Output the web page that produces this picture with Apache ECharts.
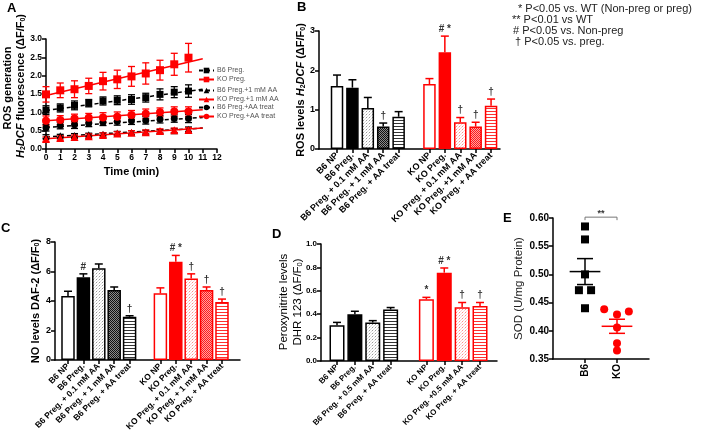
<!DOCTYPE html>
<html><head><meta charset="utf-8">
<script src="https://cdn.jsdelivr.net/npm/echarts@6/dist/echarts.min.js"></script>
<style>html,body{margin:0;padding:0;background:#fff}#c{width:709px;height:437px}</style>
</head><body><div id="c"></div>
<script>
// ---------------- Panel A data ----------------
const timeMin = [0,1,2,3,4,5,6,7,8,9,10];
const fitTimes = [0, 11];
const seriesNamesA = ['B6 Preg.','KO Preg.','B6 Preg.+1 mM AA','KO Preg.+1 mM AA','B6 Preg.+AA treat','KO Preg.+AA treat'];
const b6Preg  = [1.06,1.12,1.19,1.25,1.31,1.33,1.35,1.40,1.49,1.55,1.58];
const koPreg  = [1.49,1.60,1.63,1.72,1.85,1.90,1.98,2.06,2.15,2.31,2.49];
const b61mM   = [0.34,0.36,0.37,0.39,0.40,0.43,0.45,0.46,0.48,0.50,0.54];
const ko1mM   = [0.27,0.30,0.33,0.35,0.38,0.42,0.44,0.46,0.49,0.51,0.52];
const b6AA    = [0.58,0.64,0.66,0.70,0.73,0.75,0.77,0.78,0.81,0.83,0.83];
const koAA    = [0.77,0.79,0.83,0.85,0.86,0.88,0.93,0.96,1.00,1.02,1.02];
const errB6Preg = [0.12,0.11,0.12,0.10,0.11,0.12,0.13,0.12,0.15,0.15,0.17];
const errKOPreg = [0.21,0.20,0.23,0.21,0.24,0.25,0.27,0.29,0.27,0.30,0.39];
const errB61mM  = [0.05,0.04,0.05,0.04,0.04,0.05,0.05,0.05,0.05,0.06,0.06];
const errKO1mM  = [0.06,0.06,0.05,0.06,0.06,0.05,0.06,0.06,0.06,0.06,0.06];
const errB6AA   = [0.09,0.09,0.10,0.09,0.09,0.10,0.10,0.10,0.10,0.10,0.11];
const errKOAA   = [0.13,0.12,0.12,0.12,0.13,0.13,0.12,0.13,0.12,0.13,0.13];
const fitB6Preg = [1.05,1.63];
const fitKOPreg = [1.46,2.46];
const fitB61mM  = [0.33,0.57];
const fitKO1mM  = [0.28,0.57];
const fitB6AA   = [0.59,0.86];
const fitKOAA   = [0.77,1.07];

// ---------------- Panel B data ----------------
const catsB = ['B6 NP','B6 Preg.','B6 Preg. + 0.1 mM AA','B6 Preg. + 1 mM AA','B6 Preg. + AA treat','','KO NP','KO Preg.','KO Preg. + 0.1 mM AA','KO Preg. +1 mM AA','KO Preg. + AA treat'];
const valsB = [1.60,1.56,1.04,0.57,0.82,null,1.65,2.46,0.68,0.57,1.10];
const errB  = [0.28,0.20,0.27,0.09,0.13,null,0.14,0.41,0.12,0.11,0.17];
const sigB  = ['','','','†','',null,'','# *','†','†','†'];

// ---------------- Panel C data ----------------
const catsC = ['B6 NP','B6 Preg.','B6 Preg. + 0.1 mM AA','B6 Preg. + 1 mM AA','B6 Preg. + AA treat','','KO NP','KO Preg.','KO Preg. + 0.1 mM AA','KO Preg. + 1 mM AA','KO Preg. + AA treat'];
const valsC = [4.34,5.61,6.22,4.75,2.93,null,4.52,6.66,5.52,4.75,3.93];
const errC  = [0.32,0.23,0.29,0.20,0.07,null,0.37,0.43,0.32,0.20,0.20];
const sigC  = ['','#','','','†',null,'','# *','†','†','†'];

// ---------------- Panel D data ----------------
const catsD = ['B6 NP','B6 Preg.','B6 Preg. + 0.5 mM AA','B6 Preg. + AA treat','','KO NP','KO Preg.','KO Preg. +0.5 mM AA','KO Preg. + AA treat'];
const valsD = [0.305,0.40,0.33,0.44,null,0.527,0.755,0.46,0.47];
const errD  = [0.025,0.025,0.015,0.017,null,0.017,0.04,0.04,0.03];
const sigD  = ['','','','',null,'*','# *','†','†'];

// ---------------- Panel E data ----------------
const groupsE = ['B6','KO'];
const sodB6 = [0.585,0.562,0.500,0.472,0.472,0.440];
const sodB6Jitter = [0,0,0,-0.19,0.19,0];
const sodKO = [0.438,0.429,0.434,0.406,0.378,0.365];
const sodKOJitter = [-0.40,0,0.37,0,0,0];
const meanE = [0.505,0.408];
const semE  = [0.023,0.0125];
const sigE  = '**';

// ---------------- Texts ----------------
const keyLines = ['* P<0.05 vs. WT (Non-preg or preg)','** P<0.01 vs WT','# P<0.05 vs. Non-preg','† P<0.05 vs. preg.'];
const panelLetters = ['A','B','C','D','E'];
const titleA = ['{b|ROS generation}', '{i|H}{s|2}{i|DCF}{b| fluorescence (ΔF/F}{s|0}{b|)}'];
const titleD = ['{r|Peroxynitrite levels}', '{r|DHR 123 (ΔF/F}{rs|0}{r|)}'];

// =================================================
const RED = '#ff0000', BLK = '#000000';
const FONT = '"Liberation Sans", Arial, sans-serif';

function pattern(w, h, fn){ const c=document.createElement('canvas'); c.width=w; c.height=h; const g=c.getContext('2d'); fn(g); return {image:c, repeat:'repeat'}; }
function fillFor(kind, col){
  const red = col===RED;
  if(kind==='np') return '#ffffff';
  if(kind==='preg') return col;
  if(kind==='low') return pattern(3,3,g=>{g.fillStyle='#fff';g.fillRect(0,0,3,3);g.fillStyle=red?'#ff8c8c':'#9a9a9a';g.fillRect(0,0,1,1);g.fillStyle=red?'#ffd0d0':'#dddddd';g.fillRect(1,2,1,1);g.fillRect(2,1,1,1);});
  if(kind==='high') return pattern(2,2,g=>{g.fillStyle=red?'#ffa0a0':'#8a8a8a';g.fillRect(0,0,2,2);g.fillStyle=red?'#ff1a1a':'#111111';g.fillRect(0,0,1,1);g.fillRect(1,1,1,1);});
  if(kind==='treat') return pattern(3,3,g=>{g.fillStyle='#fff';g.fillRect(0,0,3,3);g.fillStyle=red?'#ff3030':'#333333';g.fillRect(0,0,3,1);});
}
const kindsFive = ['np','preg','low','high','treat'];
const kindsFour = ['np','preg','low','treat'];
function kindOf(cats, i, kinds){
  const grp = cats[i].startsWith('KO') ? cats.indexOf('KO NP') : 0;
  return kinds[i-grp];
}
function colOf(cat){ return cat.startsWith('KO') ? RED : BLK; }

const axisBase = (extra) => Object.assign({
  axisLine:{show:true, onZero:false, lineStyle:{color:'#000', width:1.5}},
  axisTick:{show:true, length:4, lineStyle:{color:'#000', width:1.5}},
  splitLine:{show:false},
  axisLabel:{color:'#000', fontWeight:'bold', fontFamily:FONT, fontSize:9, margin:4}
}, extra);

const grids = [
  {left:46, top:39, width:171, height:110},
  {left:319, top:31, width:181, height:118},
  {left:55, top:242, width:185, height:118},
  {left:321, top:244, width:176, height:117},
  {left:553, top:218, width:96, height:141}
];

function barX(gi, cats, min, max, fs){
  const idx = cats.map((c,i)=>c?i:-1).filter(i=>i>=0);
  return axisBase({gridIndex:gi, type:'value', min:min, max:max,
    axisTick:{show:true, length:4, customValues:idx, lineStyle:{color:'#000', width:1.5}},
    axisLabel:{customValues:idx, formatter:v=>cats[Math.round(v)], rotate:45, color:'#000', fontWeight:'bold', fontFamily:FONT, fontSize:fs, margin:5}});
}
function richName(){
  return {
    b:{fontWeight:'bold', fontSize:11, fontFamily:FONT, color:'#000', verticalAlign:'bottom', lineHeight:13},
    i:{fontWeight:'bold', fontStyle:'italic', fontSize:11, fontFamily:FONT, color:'#000', verticalAlign:'bottom', lineHeight:13},
    s:{fontWeight:'bold', fontSize:7, fontFamily:FONT, color:'#000', verticalAlign:'bottom', lineHeight:11},
    r:{fontWeight:'normal', fontSize:11.5, fontFamily:FONT, color:'#222', verticalAlign:'bottom', lineHeight:13},
    rs:{fontWeight:'normal', fontSize:7.5, fontFamily:FONT, color:'#222', verticalAlign:'bottom', lineHeight:11}
  };
}

const xAxes = [
  axisBase({gridIndex:0, type:'value', min:0, max:12, interval:1,
    axisLabel:{color:'#000', fontWeight:'bold', fontFamily:FONT, fontSize:8.5, margin:4},
    name:'Time (min)', nameLocation:'middle', nameGap:17,
    nameTextStyle:{fontWeight:'bold', fontSize:11, fontFamily:FONT, color:'#000'}}),
  barX(1, catsB, -1.169, 10.58, 9),
  barX(2, catsC, -0.844, 11.17, 8.5),
  barX(3, catsD, -0.895, 8.95, 8),
  axisBase({gridIndex:4, type:'value', min:0, max:3,
    axisTick:{show:true, length:4, customValues:[1,2], lineStyle:{color:'#000', width:1.5}},
    axisLabel:{customValues:[1,2], formatter:v=>groupsE[Math.round(v)-1], rotate:90, color:'#000', fontWeight:'bold', fontFamily:FONT, fontSize:10, margin:5}})
];
const yAxes = [
  axisBase({gridIndex:0, type:'value', min:0, max:3, interval:0.5,
    axisLabel:{formatter:v=>v.toFixed(1), color:'#000', fontWeight:'bold', fontFamily:FONT, fontSize:8.5, margin:4}}),
  axisBase({gridIndex:1, type:'value', min:0, max:3, interval:1,
    axisLabel:{color:'#000', fontWeight:'bold', fontFamily:FONT, fontSize:9, margin:4},
    name:'{b|ROS levels }{i|H}{s|2}{i|DCF}{b| (ΔF/F}{s|0}{b|)}', nameLocation:'middle', nameGap:7,
    nameTextStyle:{rich:richName()}}),
  axisBase({gridIndex:2, type:'value', min:0, max:8, interval:2,
    axisLabel:{color:'#000', fontWeight:'bold', fontFamily:FONT, fontSize:9, margin:4},
    name:'{b|NO levels DAF-2 (ΔF/F}{s|0}{b|)}', nameLocation:'middle', nameGap:14,
    nameTextStyle:{rich:richName()}}),
  axisBase({gridIndex:3, type:'value', min:0, max:1, interval:0.2,
    axisLabel:{formatter:v=>v.toFixed(1), color:'#000', fontWeight:'bold', fontFamily:FONT, fontSize:8, margin:4}}),
  axisBase({gridIndex:4, type:'value', min:0.35, max:0.60, interval:0.05,
    axisLabel:{formatter:v=>v.toFixed(2), color:'#000', fontWeight:'bold', fontFamily:FONT, fontSize:10, margin:4},
    name:'{r|SOD (U/mg Protein)}', nameLocation:'middle', nameGap:28,
    nameTextStyle:{rich:richName()}})
];

const series = [];

// ---------- Panel A ----------
const aSpec = [
  {pts:b6Preg, err:errB6Preg, fit:fitB6Preg, col:BLK, sym:'rect', dashed:true, size:7},
  {pts:koPreg, err:errKOPreg, fit:fitKOPreg, col:RED, sym:'rect', dashed:false, size:8},
  {pts:b61mM, err:errB61mM, fit:fitB61mM, col:BLK, sym:'triangle', dashed:true, size:7},
  {pts:ko1mM, err:errKO1mM, fit:fitKO1mM, col:RED, sym:'triangle', dashed:false, size:8},
  {pts:b6AA, err:errB6AA, fit:fitB6AA, col:BLK, sym:'circle', dashed:true, size:7},
  {pts:koAA, err:errKOAA, fit:fitKOAA, col:RED, sym:'circle', dashed:false, size:8}
];
aSpec.forEach((s,k)=>{
  series.push({type:'line', name:seriesNamesA[k], xAxisIndex:0, yAxisIndex:0,
    data:fitTimes.map((t,j)=>[t, s.fit[j]]), symbol:s.sym, symbolSize:6, showSymbol:false,
    lineStyle:{color:s.col, width:1.5, type:s.dashed?[4,3]:'solid'}, itemStyle:{color:s.col}, silent:true, z:2});
});
aSpec.forEach((s,k)=>{
  series.push({type:'custom', xAxisIndex:0, yAxisIndex:0, z:3, silent:true,
    data:timeMin.map((t,j)=>[t, s.pts[j], s.err[j]]),
    renderItem:(p,api)=>{
      const t=api.value(0), v=api.value(1), e=api.value(2);
      const a=api.coord([t,v-e]), b=api.coord([t,v+e]);
      const st={stroke:s.col, lineWidth:1.3};
      return {type:'group', children:[
        {type:'line', shape:{x1:a[0],y1:a[1],x2:b[0],y2:b[1]}, style:st},
        {type:'line', shape:{x1:a[0]-3.5,y1:a[1],x2:a[0]+3.5,y2:a[1]}, style:st},
        {type:'line', shape:{x1:b[0]-3.5,y1:b[1],x2:b[0]+3.5,y2:b[1]}, style:st}]};
    }});
  series.push({type:'scatter', name:seriesNamesA[k], xAxisIndex:0, yAxisIndex:0, z:4, silent:true,
    data:timeMin.map((t,j)=>[t, s.pts[j]]), symbol:s.sym, symbolSize:s.size, itemStyle:{color:s.col, opacity:1}});
});

// ---------- Bar panels ----------
function barPanel(gi, cats, vals, errs, sigs, kinds, bw){
  const data = [];
  vals.forEach((v,i)=>{
    if(v==null) return;
    const col = colOf(cats[i]);
    data.push({value:[i, v], itemStyle:{color:fillFor(kindOf(cats,i,kinds), col), borderColor:col, borderWidth:1.5}});
  });
  series.push({type:'bar', xAxisIndex:gi, yAxisIndex:gi, barWidth:bw, data:data, silent:true, z:2});
  const ed = [];
  vals.forEach((v,i)=>{ if(v!=null) ed.push([i, v, errs[i]]); });
  series.push({type:'custom', xAxisIndex:gi, yAxisIndex:gi, clip:false, z:3, silent:true, data:ed,
    renderItem:(p,api)=>{
      const i=api.value(0), v=api.value(1), e=api.value(2);
      const a=api.coord([i,v]), b=api.coord([i,v+e]);
      const col=colOf(cats[i]); const st={stroke:col, lineWidth:1.5};
      const ch=[{type:'line', shape:{x1:a[0],y1:a[1],x2:b[0],y2:b[1]}, style:st},
                {type:'line', shape:{x1:b[0]-4,y1:b[1],x2:b[0]+4,y2:b[1]}, style:st}];
      const sg=sigs[i];
      if(sg) ch.push({type:'text', x:b[0], y:b[1]-2, style:{text:sg, align:'center', verticalAlign:'bottom', font:'bold 10px '+FONT, fill:'#333'}});
      return {type:'group', children:ch};
    }});
}
barPanel(1, catsB, valsB, errB, sigB, kindsFive, 12.5);
barPanel(2, catsC, valsC, errC, sigC, kindsFive, 13.5);
barPanel(3, catsD, valsD, errD, sigD, kindsFour, 15);

// ---------- Panel E ----------
series.push({type:'scatter', xAxisIndex:4, yAxisIndex:4, symbol:'rect', symbolSize:8, silent:true, z:3,
  data:sodB6.map((v,k)=>[1+sodB6Jitter[k], v]), itemStyle:{color:BLK, opacity:1}});
series.push({type:'scatter', xAxisIndex:4, yAxisIndex:4, symbol:'circle', symbolSize:8, silent:true, z:3,
  data:sodKO.map((v,k)=>[2+sodKOJitter[k], v]), itemStyle:{color:RED, opacity:1}});
series.push({type:'custom', xAxisIndex:4, yAxisIndex:4, silent:true, z:4, clip:false,
  data:meanE.map((m,k)=>[k+1, m, semE[k]]),
  renderItem:(p,api)=>{
    const x=api.value(0), m=api.value(1), s=api.value(2);
    const col = x===1?BLK:RED; const st={stroke:col, lineWidth:1.5};
    const l=api.coord([x-0.48,m]), r=api.coord([x+0.48,m]);
    const lo=api.coord([x,m-s]), hi=api.coord([x,m+s]);
    const cl=api.coord([x-0.25,m]), cr=api.coord([x+0.25,m]);
    return {type:'group', children:[
      {type:'line', shape:{x1:l[0],y1:l[1],x2:r[0],y2:r[1]}, style:st},
      {type:'line', shape:{x1:lo[0],y1:lo[1],x2:hi[0],y2:hi[1]}, style:st},
      {type:'line', shape:{x1:cl[0],y1:lo[1],x2:cr[0],y2:lo[1]}, style:st},
      {type:'line', shape:{x1:cl[0],y1:hi[1],x2:cr[0],y2:hi[1]}, style:st}]};
  }});
series.push({type:'custom', xAxisIndex:4, yAxisIndex:4, silent:true, z:4, clip:false,
  data:[[1, 2, 0.6015]],
  renderItem:(p,api)=>{
    const a=api.coord([api.value(0), api.value(2)]), b=api.coord([api.value(1), api.value(2)]);
    const st={stroke:'#777', lineWidth:1, fill:null};
    return {type:'group', children:[
      {type:'polyline', shape:{points:[[a[0],a[1]+3],[a[0],a[1]],[b[0],b[1]],[b[0],b[1]+3]]}, style:st},
      {type:'text', x:(a[0]+b[0])/2, y:a[1]+1, style:{text:sigE, align:'center', verticalAlign:'bottom', font:'bold 9px '+FONT, fill:'#333'}}]};
  }});

// ---------- graphics ----------
const letterPos = [[7,2],[297,1],[1,222],[272,228],[503,212]];
const graphic = panelLetters.map((L,k)=>({type:'text', left:letterPos[k][0], top:letterPos[k][1],
  style:{text:L, font:'bold 13px '+FONT, fill:'#000'}}));
keyLines.forEach((t,k)=>{
  const xs=[518,512,513,515];
  graphic.push({type:'text', left:xs[k], top:3+k*11.3, style:{text:t, font:'11px '+FONT, fill:'#222'}});
});
// two-line y-axis titles (A and D)
const titlePos = [[[7,88],[20,86]], [[283,302],[297,302]]];
[titleA, titleD].forEach((lines,p)=>{
  lines.forEach((t,k)=>{
    graphic.push({type:'text', x:titlePos[p][k][0], y:titlePos[p][k][1], rotation:Math.PI/2,
      style:{text:t, rich:richName(), align:'center', verticalAlign:'middle'}});
  });
});

const legendBase = (names, top) => ({data:names, left:198, top:top, orient:'vertical', itemGap:2, itemWidth:15, itemHeight:7,
  padding:0, selectedMode:false, textStyle:{fontSize:7, color:'#555', fontFamily:FONT, lineHeight:7, padding:[0,0,0,-2]}});

const chart = echarts.init(document.getElementById('c'), null, {renderer:'canvas'});
chart.setOption({
  animation:false,
  backgroundColor:'#fff',
  grid:grids,
  xAxis:xAxes,
  yAxis:yAxes,
  legend:[legendBase(seriesNamesA.slice(0,2),67), legendBase(seriesNamesA.slice(2,4),87), legendBase(seriesNamesA.slice(4,6),104)],
  series:series,
  graphic:graphic
});
</script></body></html>
